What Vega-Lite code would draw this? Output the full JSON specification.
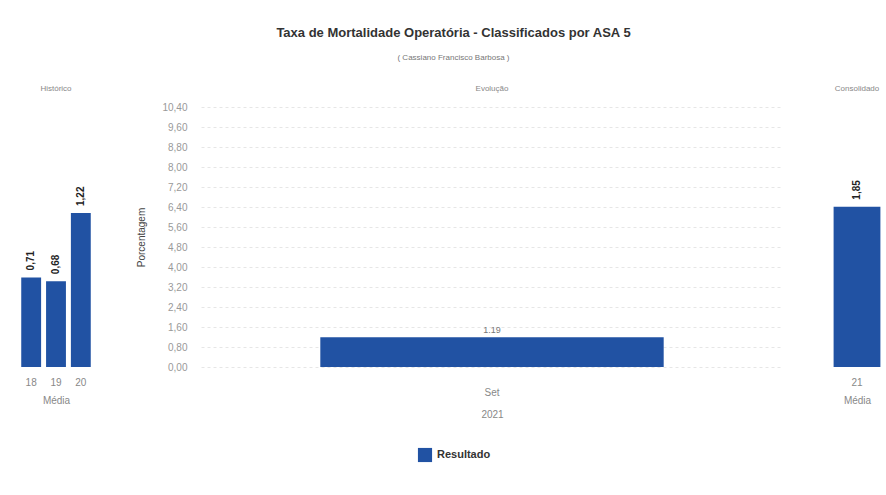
{
  "$schema": "https://vega.github.io/schema/vega-lite/v6.json",
  "background": "white",
  "padding": {"left": 20, "top": 27, "right": 0, "bottom": 5},
  "title": {
    "text": "Taxa de Mortalidade Operatória - Classificados por ASA 5",
    "subtitle": "( Cassiano Francisco Barbosa )",
    "font": "Liberation Sans",
    "fontSize": 13,
    "fontWeight": "bold",
    "color": "#333333",
    "subtitleFont": "Liberation Sans",
    "subtitleFontSize": 8,
    "subtitleColor": "#777777",
    "subtitlePadding": 14,
    "anchor": "middle",
    "offset": 23
  },
  "spacing": 44,
  "hconcat": [
    {
      "title": {"text": "Histórico", "fontSize": 8, "fontWeight": "normal", "color": "#888888", "font": "Liberation Sans", "offset": 14},
      "width": 72,
      "height": 260,
      "data": {"values": [
        {"ano": "18", "valor": 0.71},
        {"ano": "19", "valor": 0.68},
        {"ano": "20", "valor": 1.22}
      ]},
      "transform": [{"calculate": "replace(format(datum.valor, '.2f'), '.', ',')", "as": "rotulo"}],
      "encoding": {
        "x": {"field": "ano", "type": "nominal", "sort": null,
          "scale": {"paddingInner": 0.2, "paddingOuter": 0.05},
          "axis": {"title": "Média", "labelAngle": 0, "ticks": false, "domain": false, "labelPadding": 10, "labelFontSize": 10, "labelColor": "#888888", "labelFont": "Liberation Sans", "titleFont": "Liberation Sans", "titleFontSize": 10, "titleFontWeight": "normal", "titleColor": "#888888", "titlePadding": 8}},
        "y": {"field": "valor", "type": "quantitative", "scale": {"domain": [0, 2.06]}, "axis": null}
      },
      "layer": [
        {"mark": {"type": "bar", "color": "#2152A3"}},
        {"mark": {"type": "text", "angle": 270, "align": "left", "baseline": "middle", "dx": 7, "fontWeight": "bold", "fontSize": 10, "font": "Liberation Sans", "color": "#222222"},
         "encoding": {"text": {"field": "rotulo"}}}
      ]
    },
    {
      "title": {"text": "Evolução", "fontSize": 8, "fontWeight": "normal", "color": "#888888", "font": "Liberation Sans", "offset": 9},
      "width": 582,
      "height": 260,
      "data": {"values": [
        {"mes": "Set", "valor": 1.19, "serie": "Resultado"}
      ]},
      "encoding": {
        "x": {"field": "mes", "type": "nominal",
          "scale": {"paddingInner": 0.41, "paddingOuter": 0.205},
          "axis": {"title": "2021", "labelAngle": 0, "ticks": false, "domain": false, "labelPadding": 20, "labelFontSize": 10, "labelColor": "#888888", "labelFont": "Liberation Sans", "titleFont": "Liberation Sans", "titleFontSize": 10, "titleFontWeight": "normal", "titleColor": "#888888", "titlePadding": 12}},
        "y": {"field": "valor", "type": "quantitative",
          "scale": {"domain": [0, 10.4], "nice": false},
          "axis": {"title": "Porcentagem", "values": [0, 0.8, 1.6, 2.4, 3.2, 4, 4.8, 5.6, 6.4, 7.2, 8, 8.8, 9.6, 10.4],
            "labelExpr": "replace(format(datum.value, '.2f'), '.', ',')",
            "ticks": false, "domain": false, "labelPadding": 14, "labelFontSize": 10, "labelColor": "#999999", "labelFont": "Liberation Sans",
            "grid": true, "gridColor": "#e6e6e6", "gridDash": [3, 3],
            "titleFont": "Liberation Sans", "titleFontSize": 10, "titleFontWeight": "normal", "titleColor": "#444444", "titlePadding": 15}}
      },
      "layer": [
        {"mark": {"type": "bar"},
         "encoding": {"color": {"field": "serie", "type": "nominal", "scale": {"range": ["#2152A3"]},
           "legend": {"title": null, "orient": "bottom", "symbolType": "square", "symbolSize": 200, "labelFontSize": 11, "labelFontWeight": "bold", "labelColor": "#333333", "labelFont": "Liberation Sans", "offset": 28}}}},
        {"mark": {"type": "text", "baseline": "bottom", "dy": -2, "fontSize": 9, "color": "#777777", "font": "Liberation Sans"},
         "encoding": {"text": {"field": "valor", "type": "quantitative", "format": ".2f"}}}
      ]
    },
    {
      "title": {"text": "Consolidado", "fontSize": 8, "fontWeight": "normal", "color": "#888888", "font": "Liberation Sans", "offset": 14},
      "width": 60,
      "height": 260,
      "data": {"values": [
        {"ano": "21", "valor": 1.85}
      ]},
      "transform": [{"calculate": "replace(format(datum.valor, '.2f'), '.', ',')", "as": "rotulo"}],
      "encoding": {
        "x": {"field": "ano", "type": "nominal",
          "scale": {"paddingInner": 0.22, "paddingOuter": 0.11},
          "axis": {"title": "Média", "labelAngle": 0, "ticks": false, "domain": false, "labelPadding": 10, "labelFontSize": 10, "labelColor": "#888888", "labelFont": "Liberation Sans", "titleFont": "Liberation Sans", "titleFontSize": 10, "titleFontWeight": "normal", "titleColor": "#888888", "titlePadding": 8}},
        "y": {"field": "valor", "type": "quantitative", "scale": {"domain": [0, 3]}, "axis": null}
      },
      "layer": [
        {"mark": {"type": "bar", "color": "#2152A3"}},
        {"mark": {"type": "text", "angle": 270, "align": "left", "baseline": "middle", "dx": 7, "fontWeight": "bold", "fontSize": 10, "font": "Liberation Sans", "color": "#222222"},
         "encoding": {"text": {"field": "rotulo"}}}
      ]
    }
  ],
  "resolve": {"scale": {"y": "independent", "x": "independent"}},
  "config": {
    "view": {"stroke": null},
    "legend": {"layout": {"bottom": {"anchor": "middle"}}}
  }
}
